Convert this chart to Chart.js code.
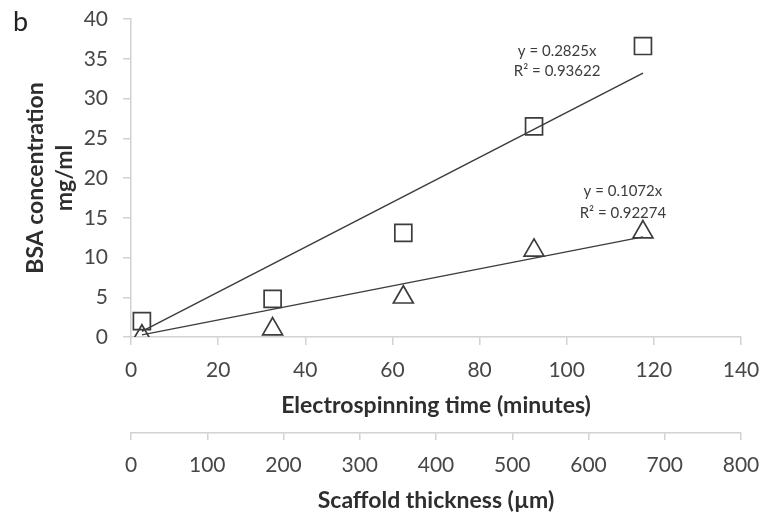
<!DOCTYPE html>
<html>
<head>
<meta charset="utf-8">
<script src="https://cdn.jsdelivr.net/npm/chart.js@4"></script>
<style>
  html, body { margin: 0; padding: 0; background: #ffffff; }
  #wrap { position: relative; width: 760px; height: 516px; }
  #panel { position: absolute; left: 13px; top: 4px; font: 27px Lato, sans-serif; color: #222; }
</style>
</head>
<body>
<div id="wrap">
  <canvas id="c" width="760" height="516"></canvas>
  <span id="panel">b</span>
</div>
<script>
// ---- data ----
const timeMinutes   = [2.5, 32.5, 62.5, 92.5, 117.5];
const squareConc    = [2.0, 4.8, 13.1, 26.5, 36.6];
const triangleConc  = [0.1, 1.0, 5.0, 10.9, 13.2];
const squareFit     = { slope: 0.2825, r2: '0.93622' };
const triangleFit   = { slope: 0.1072, r2: '0.92274' };
const yRange        = { min: 0, max: 40, step: 5 };
const timeRange     = { min: 0, max: 140, step: 20 };
const thickRange    = { min: 0, max: 800, step: 100 };
const yTitle        = ['BSA concentration', 'mg/ml'];
const xTitle        = 'Electrospinning time (minutes)';
const x2Title       = 'Scaffold thickness (\u00B5m)';

const INK = '#3c3c3c';
const AXIS = '#d2d2d2';
const TICK = '#474747';
const TITLE = '#2e2e2e';

function pts(xs, ys) { return xs.map((x, i) => ({ x: x, y: ys[i] })); }
function trend(xs, slope) {
  const x0 = xs[0], x1 = xs[xs.length - 1];
  return [{ x: x0, y: slope * x0 }, { x: x1, y: slope * x1 }];
}

// equation labels (anchored in data coordinates)
const eqLabels = [
  { x: 97.8,  y: 36.0, text: 'y = ' + squareFit.slope + 'x' },
  { x: 97.8,  y: 33.4, text: 'R\u00B2 = ' + squareFit.r2 },
  { x: 112.9, y: 18.3, text: 'y = ' + triangleFit.slope + 'x' },
  { x: 112.9, y: 15.6, text: 'R\u00B2 = ' + triangleFit.r2 }
];

const eqPlugin = {
  id: 'eqPlugin',
  afterDatasetsDraw(chart) {
    const ctx = chart.ctx, xs = chart.scales.x, ys = chart.scales.y;
    ctx.save();
    ctx.font = '15px Lato';
    ctx.fillStyle = INK;
    ctx.textAlign = 'center';
    ctx.textBaseline = 'middle';
    eqLabels.forEach(l => ctx.fillText(l.text, xs.getPixelForValue(l.x), ys.getPixelForValue(l.y)));
    ctx.restore();
  }
};

function build() {
  Chart.defaults.font.family = 'Lato';
  new Chart(document.getElementById('c'), {
    type: 'scatter',
    data: {
      datasets: [
        { type: 'line', data: trend(timeMinutes, squareFit.slope), borderColor: INK, borderWidth: 1.5, pointRadius: 0, fill: false, xAxisID: 'x', yAxisID: 'y' },
        { type: 'line', data: trend(timeMinutes, triangleFit.slope), borderColor: INK, borderWidth: 1.5, pointRadius: 0, fill: false, xAxisID: 'x', yAxisID: 'y' },
        { data: pts(timeMinutes, squareConc), pointStyle: 'rect', pointRadius: 12, borderColor: INK, borderWidth: 1.7, backgroundColor: 'rgba(255,255,255,0)', xAxisID: 'x', yAxisID: 'y' },
        { data: pts(timeMinutes, triangleConc), pointStyle: 'triangle', pointRadius: 11.5, borderColor: INK, borderWidth: 1.7, backgroundColor: 'rgba(255,255,255,0)', xAxisID: 'x', yAxisID: 'y' }
      ]
    },
    options: {
      responsive: false,
      animation: false,
      events: [],
      layout: { padding: { top: 19, right: 19, bottom: 0, left: 0 } },
      plugins: { legend: { display: false }, tooltip: { enabled: false } },
      scales: {
        y: {
          type: 'linear', position: 'left',
          min: yRange.min, max: yRange.max,
          ticks: { stepSize: yRange.step, padding: 15, color: TICK, font: { size: 21 } },
          grid: { drawOnChartArea: false, tickLength: 8, color: AXIS, lineWidth: 1.5 },
          border: { color: AXIS, width: 1.5 },
          title: { display: true, text: yTitle, color: TITLE, font: { size: 23, weight: 'bold', lineHeight: 1.26 }, padding: { top: 21.5, bottom: 0 } },
          afterFit(s) { s.width = 131; s.paddingTop = 0; s.paddingBottom = 0; }
        },
        x: {
          type: 'linear', position: 'bottom', weight: 0,
          min: timeRange.min, max: timeRange.max,
          ticks: { stepSize: timeRange.step, padding: 13, color: TICK, font: { size: 21 } },
          grid: { drawOnChartArea: false, tickLength: 8, color: AXIS, lineWidth: 1.5 },
          border: { color: AXIS, width: 1.5 },
          title: { display: true, text: xTitle, color: TITLE, font: { size: 23, weight: 'bold' }, padding: { top: 4, bottom: 14 } },
          afterFit(s) { s.height = 96; s.paddingLeft = 0; s.paddingRight = 0; }
        },
        x2: {
          type: 'linear', position: 'bottom', weight: 1,
          min: thickRange.min, max: thickRange.max,
          ticks: { stepSize: thickRange.step, padding: 13, color: TICK, font: { size: 21 } },
          grid: { drawOnChartArea: false, tickLength: 7, color: AXIS, lineWidth: 1.5 },
          border: { color: AXIS, width: 1.5 },
          title: { display: true, text: x2Title, color: TITLE, font: { size: 23, weight: 'bold' }, padding: { top: 4, bottom: 2 } },
          afterFit(s) { s.height = 83; s.paddingLeft = 0; s.paddingRight = 0; }
        }
      }
    },
    plugins: [eqPlugin]
  });
}

const loads = ['21px Lato', 'bold 23px Lato', '15px Lato'].map(f => document.fonts.load(f).catch(() => null));
Promise.all(loads).then(build, build);
</script>
</body>
</html>
